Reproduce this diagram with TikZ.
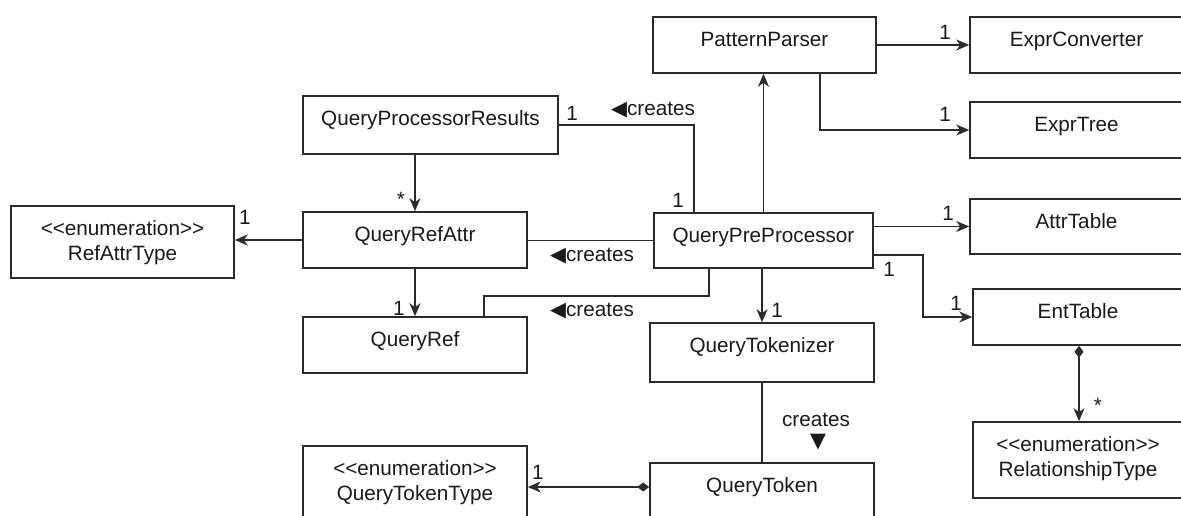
\documentclass[tikz,border=0pt]{standalone}
\usepackage{fontspec}
\setmainfont{Liberation Sans}
\newfontfamily\symfont{DejaVu Sans}
\usetikzlibrary{arrows.meta,calc}

\definecolor{linegray}{HTML}{2B2B2B}
\definecolor{textgray}{HTML}{1A1A1A}
\newcommand\labelsize{\fontsize{20.7}{25}\selectfont}
\newcommand\stereo{{<}{<}enumeration{>}{>}}

\tikzset{
  umlbox/.style={draw=linegray, line width=1.6pt, fill=white, inner sep=0pt},
  boxtext/.style={anchor=base, inner sep=0pt, text=textgray, font=\labelsize},
  mult/.style={inner sep=0pt, text=textgray, font=\labelsize},
  link/.style={draw=linegray, line width=1.6pt},
  assoc/.style={link, -{Stealth[length=13pt,width=11pt,inset=4pt]}},
  comp/.style={link, {Diamond[length=12pt,width=9pt]}-{Stealth[length=13pt,width=11pt,inset=4pt]}},
}

% class box: name, left, top, right, bottom (pixel-like units, y grows downwards)
\newcommand\classbox[5]{%
  \node[umlbox, minimum width={(#4-#2)*1pt}, minimum height={(#5-#3)*1pt}]
    (#1) at ({(#2+#4)/2},{(#3+#5)/2}) {};}
% one line of a class name: name, centre x, box top, line index (0 or 1), text
\newcommand\classline[5]{%
  \node[boxtext] (#1) at (#2,{#3+29.5+25*#4}) {#5};}

\begin{document}
\begin{tikzpicture}[x=1pt,y=-1pt]
\useasboundingbox (0,0) rectangle (1181,516);
\clip (0,0) rectangle (1181,516);

% ---- classes ----
\classbox{pp}{653}{17}{876}{73}
\classbox{ec}{970}{17}{1185}{73}
\classbox{et}{970}{102}{1185}{158}
\classbox{qpr}{303}{96}{558}{154}
\classbox{qra}{303}{212}{527}{268}
\classbox{qpp}{654}{213}{873}{268}
\classbox{at}{970}{199}{1185}{254}
\classbox{ent}{973}{289}{1185}{345}
\classbox{rat}{11}{206}{234}{278}
\classbox{qr}{303}{317}{527}{373}
\classbox{qtz}{650}{323}{874}{382}
\classbox{qtk}{650}{463}{874}{545}
\classbox{qtt}{303}{446}{527}{535}
\classbox{rt}{973}{422}{1185}{498}

\classline{pp-t}{764.5}{17}{0}{PatternParser}
\classline{ec-t}{1076.5}{17}{0}{ExprConverter}
\classline{et-t}{1076.5}{102}{0}{ExprTree}
\classline{qpr-t}{430.5}{96}{0}{QueryProcessorResults}
\classline{qra-t}{415}{212}{0}{QueryRefAttr}
\classline{qpp-t}{763.5}{213}{0}{QueryPreProcessor}
\classline{at-t}{1076.5}{199}{0}{AttrTable}
\classline{ent-t}{1078}{289}{0}{EntTable}
\classline{rat-s}{122.5}{206}{0}{\stereo}
\classline{rat-t}{122.5}{206}{1}{RefAttrType}
\classline{qr-t}{415}{317}{0}{QueryRef}
\classline{qtz-t}{762}{323}{0}{QueryTokenizer}
\classline{qtk-t}{762}{463}{0}{QueryToken}
\classline{qtt-s}{415}{446}{0}{\stereo}
\classline{qtt-t}{415}{446}{1}{QueryTokenType}
\classline{rt-s}{1078}{422}{0}{\stereo}
\classline{rt-t}{1078}{422}{1}{RelationshipType}

% ---- bend points ----
\coordinate (entbend) at (923,255);
\coordinate (qrbend) at (709,296);
\coordinate (ttrow) at (600,487);

% ---- connectors ----
\draw[assoc] (pp) -- (ec);
\draw[assoc] ([xshift=55.5pt]pp.south) |- (et.west);
\draw[assoc] (qpp.north) -- (qpp.north |- pp.south);
\draw[link] (qpr.east) -| ([xshift=-69.5pt]qpp.north);
\draw[assoc] (qra.north |- qpr.south) -- (qra.north);
\draw[assoc] (qra.west) -- (qra.west -| rat.east);
\draw[link] (qpp.west) -- (qpp.west -| qra.east);
\draw[assoc] (qra.south) -- (qr.north);
\draw[link] (qrbend |- qpp.south) -- (qrbend) -| ([xshift=69pt]qr.north);
\draw[assoc] (qtz.north |- qpp.south) -- (qtz.north);
\draw[assoc] (at.west -| qpp.east) -- (at.west);
\draw[assoc] (entbend -| qpp.east) -- (entbend) |- (ent.west);
\draw[comp] (ent.south) -- (rt.north);
\draw[link] (qtz.south) -- (qtk.north);
\draw[comp] (ttrow -| qtk.west) -- (ttrow -| qtt.east);

% ---- multiplicities and roles ----
\node[mult] (m-ec) at (945,32) {1};
\node[mult] (m-et) at (945,114) {1};
\node[mult] (m-qpr) at (572,113) {1};
\node[mult] (m-qppt) at (678,200) {1};
\node[mult] (s-qra) at (401,199) {*};
\node[mult] (m-rat) at (245,217) {1};
\node[mult] (m-at) at (948,213) {1};
\node[mult] (m-qppr) at (889,269) {1};
\node[mult] (m-ent) at (956,303) {1};
\node[mult] (m-qr) at (399,308) {1};
\node[mult] (m-qtz) at (777,310) {1};
\node[mult] (s-rt) at (1098,405) {*};
\node[mult] (m-qtt) at (538,472) {1};

\node[mult] (cr-qpr) at (653,110) {{\symfont ◀}creates};
\node[mult] (cr-qra) at (592,256) {{\symfont ◀}creates};
\node[mult] (cr-qr) at (592,311) {{\symfont ◀}creates};
\node[mult] (cr-qtk) at (816,420) {creates};
\node[mult] (cr-qtk-dir) at (818,442) {{\symfont ▼}};

\end{tikzpicture}
\end{document}
